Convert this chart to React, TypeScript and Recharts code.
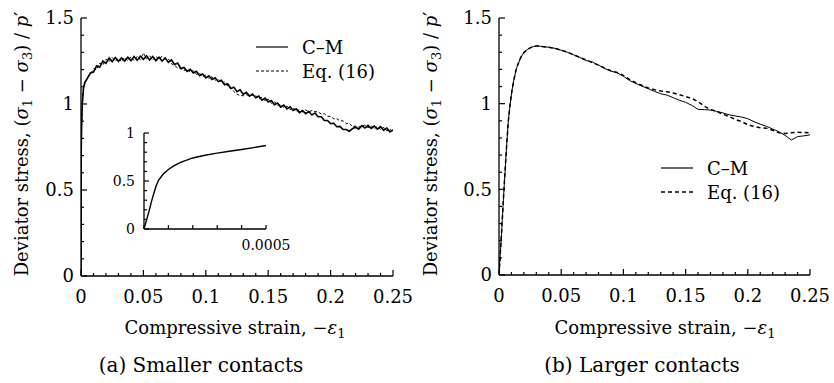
import React from 'react';
import { LineChart, Line, XAxis, YAxis } from 'recharts';

const FONT = "'DejaVu Serif', 'Liberation Serif', serif";
const FS = 18;
const SUB = 13;

// (a) smaller contacts
const strainA = [
    0, 0.0001, 0.0002, 0.0005, 0.001, 0.002, 0.003, 0.005, 0.0075,
    0.01, 0.0125, 0.015, 0.0175, 0.02, 0.0225, 0.025, 0.0275, 0.03, 0.0325,
    0.035, 0.0375, 0.04, 0.0425, 0.045, 0.0475, 0.05, 0.0525, 0.055, 0.0575,
    0.06, 0.0625, 0.065, 0.0675, 0.07, 0.0725, 0.075, 0.0775, 0.08, 0.0825,
    0.085, 0.0875, 0.09, 0.0925, 0.095, 0.0975, 0.1, 0.1025, 0.105, 0.1075,
    0.11, 0.1125, 0.115, 0.1175, 0.12, 0.1225, 0.125, 0.1275, 0.13, 0.1325,
    0.135, 0.1375, 0.14, 0.1425, 0.145, 0.1475, 0.15, 0.1525, 0.155, 0.1575,
    0.16, 0.1625, 0.165, 0.1675, 0.17, 0.1725, 0.175, 0.1775, 0.18, 0.1825,
    0.185, 0.1875, 0.19, 0.1925, 0.195, 0.1975, 0.2, 0.2025, 0.205, 0.2075,
    0.21, 0.2125, 0.215, 0.2175, 0.22, 0.2225, 0.225, 0.2275, 0.23, 0.2325,
    0.235, 0.2375, 0.24, 0.2425, 0.245, 0.2475, 0.25,
];
const cmA = [
    0, 0.62, 0.74, 0.87, 1.0, 1.09, 1.125, 1.148, 1.18,
    1.185, 1.222, 1.214, 1.25, 1.236, 1.268, 1.246, 1.27, 1.248, 1.268,
    1.25, 1.272, 1.252, 1.276, 1.254, 1.278, 1.26, 1.28, 1.256, 1.276,
    1.252, 1.272, 1.25, 1.268, 1.242, 1.256, 1.23, 1.238, 1.206, 1.212,
    1.19, 1.202, 1.18, 1.19, 1.164, 1.174, 1.152, 1.164, 1.142, 1.152,
    1.13, 1.138, 1.112, 1.118, 1.09, 1.098, 1.072, 1.082, 1.056, 1.068,
    1.046, 1.058, 1.036, 1.046, 1.022, 1.034, 1.012, 1.02, 0.996, 1.006,
    0.982, 0.994, 0.972, 0.984, 0.962, 0.972, 0.95, 0.962, 0.944, 0.956,
    0.936, 0.948, 0.926, 0.926, 0.904, 0.904, 0.886, 0.888, 0.868, 0.87,
    0.852, 0.852, 0.842, 0.856, 0.866, 0.854, 0.874, 0.86, 0.876, 0.858,
    0.872, 0.854, 0.868, 0.848, 0.86, 0.838, 0.85,
];
const eqA = [
    0, 0.62, 0.74, 0.87, 0.99, 1.1, 1.115, 1.155, 1.17,
    1.205, 1.2, 1.238, 1.226, 1.26, 1.246, 1.27, 1.25, 1.266, 1.246,
    1.27, 1.252, 1.274, 1.254, 1.276, 1.258, 1.296, 1.262, 1.28, 1.258,
    1.276, 1.262, 1.278, 1.262, 1.262, 1.234, 1.224, 1.21, 1.206, 1.194,
    1.204, 1.186, 1.194, 1.172, 1.18, 1.16, 1.168, 1.148, 1.158, 1.138,
    1.146, 1.122, 1.128, 1.104, 1.096, 1.072, 1.056, 1.05, 1.048, 1.054,
    1.048, 1.052, 1.05, 1.03, 1.038, 1.018, 1.028, 1.004, 1.014, 0.99,
    0.998, 0.978, 0.988, 0.968, 0.978, 0.958, 0.966, 0.954, 0.966, 0.954,
    0.962, 0.956, 0.954, 0.942, 0.944, 0.928, 0.928, 0.914, 0.914, 0.902,
    0.902, 0.886, 0.888, 0.868, 0.872, 0.866, 0.87, 0.878, 0.862, 0.874,
    0.856, 0.87, 0.852, 0.864, 0.844, 0.854, 0.838,
];

// (b) larger contacts
const strainB = [
    0, 0.001, 0.002, 0.003, 0.004, 0.005, 0.006, 0.0075, 0.009, 0.0105,
    0.012, 0.0135, 0.015, 0.0175, 0.02, 0.0225, 0.025, 0.0275, 0.03, 0.0325,
    0.035, 0.04, 0.045, 0.05, 0.055, 0.06, 0.065, 0.07, 0.075, 0.08,
    0.085, 0.09, 0.095, 0.1, 0.105, 0.11, 0.115, 0.12, 0.125, 0.13,
    0.135, 0.14, 0.145, 0.15, 0.155, 0.16, 0.165, 0.17, 0.175, 0.18,
    0.185, 0.19, 0.195, 0.2, 0.205, 0.21, 0.215, 0.22, 0.225, 0.23,
    0.235, 0.24, 0.245, 0.25,
];
const cmB = [
    0, 0.12, 0.24, 0.37, 0.5, 0.62, 0.74, 0.9, 1.0, 1.08,
    1.14, 1.19, 1.225, 1.27, 1.298, 1.315, 1.326, 1.333, 1.337, 1.336,
    1.333, 1.329, 1.323, 1.312, 1.3, 1.285, 1.27, 1.252, 1.243, 1.225,
    1.205, 1.19, 1.18, 1.16, 1.135, 1.118, 1.102, 1.087, 1.072, 1.058,
    1.05, 1.035, 1.02, 1.008, 0.99, 0.967, 0.965, 0.963, 0.955, 0.946,
    0.935, 0.928, 0.922, 0.912, 0.895, 0.88, 0.868, 0.852, 0.836, 0.815,
    0.788, 0.808, 0.812, 0.818,
];
const eqB = [
    0, 0.12, 0.24, 0.37, 0.5, 0.62, 0.74, 0.9, 1.0, 1.08,
    1.14, 1.19, 1.225, 1.27, 1.298, 1.315, 1.326, 1.333, 1.337, 1.336,
    1.333, 1.329, 1.323, 1.312, 1.3, 1.285, 1.27, 1.255, 1.24, 1.225,
    1.207, 1.192, 1.182, 1.165, 1.142, 1.122, 1.106, 1.092, 1.082, 1.074,
    1.07, 1.062, 1.052, 1.042, 1.03, 1.012, 0.985, 0.966, 0.955, 0.938,
    0.925, 0.908, 0.895, 0.878, 0.866, 0.86, 0.856, 0.845, 0.83, 0.826,
    0.83, 0.833, 0.832, 0.83,
];

// inset of (a), very small strains
const strainInset = [
    0, 0.00001, 0.00002, 0.00003, 0.00004, 0.00005, 0.00006, 0.00008, 0.0001,
    0.00012, 0.00015, 0.0002, 0.00025, 0.0003, 0.00035, 0.0004, 0.00045, 0.0005,
];
const cmInset = [
    0, 0.09, 0.18, 0.28, 0.37, 0.45, 0.51, 0.575, 0.62,
    0.655, 0.695, 0.74, 0.768, 0.79, 0.81, 0.828, 0.848, 0.87,
];

const xMajor = [0, 0.05, 0.1, 0.15, 0.2, 0.25];
const xAll = [
    0, 0.01, 0.02, 0.03, 0.04, 0.05, 0.06, 0.07, 0.08, 0.09, 0.1, 0.11, 0.12,
    0.13, 0.14, 0.15, 0.16, 0.17, 0.18, 0.19, 0.2, 0.21, 0.22, 0.23, 0.24, 0.25,
];
const yMajor = [0, 0.5, 1, 1.5];
const yAll = [0, 0.1, 0.2, 0.3, 0.4, 0.5, 0.6, 0.7, 0.8, 0.9, 1, 1.1, 1.2, 1.3, 1.4, 1.5];
const insetXAll = [0, 0.0001, 0.0002, 0.0003, 0.0004, 0.0005];
const insetXMajor = [0.0005];
const insetYMajor = [0, 0.5, 1];
const insetYAll = [0, 0.1, 0.2, 0.3, 0.4, 0.5, 0.6, 0.7, 0.8, 0.9, 1];

const toRows = (xs: number[], ys: number[]) => xs.map((x, i) => ({ x, y: ys[i] }));
const isIn = (v: number, list: number[]) => list.some((m) => Math.abs(m - v) < 1e-9);

// inward tick marks, labels only on major ticks
function makeTick(side: 'bottom' | 'top' | 'left' | 'right', majors: number[], labels: number[] | null, big: number, small: number, fontSize: number) {
    return (props: any) => {
        const { x, y, payload } = props;
        const v = payload.value;
        const len = isIn(v, majors) ? big : small;
        const showLabel = labels && isIn(v, labels);
        let line;
        if (side === 'bottom') line = <line x1={x} x2={x} y1={y} y2={y - len} />;
        else if (side === 'top') line = <line x1={x} x2={x} y1={y} y2={y + len} />;
        else if (side === 'left') line = <line x1={x} x2={x + len} y1={y} y2={y} />;
        else line = <line x1={x} x2={x - len} y1={y} y2={y} />;
        const txt = { stroke: 'none', fill: '#000', style: { fontFamily: FONT, fontSize } };
        return (
            <g stroke="#000" strokeWidth={1.2}>
                {line}
                {showLabel && side === 'bottom' && (
                    <text x={x} y={y + fontSize * 1.5} textAnchor="middle" {...txt}>{String(v)}</text>
                )}
                {showLabel && side === 'left' && (
                    <text x={x - (fontSize > 16 ? 7 : 9)} y={y + fontSize * 0.36} textAnchor="end" {...txt}>{String(v)}</text>
                )}
            </g>
        );
    };
}

const axisLine = { stroke: '#000', strokeWidth: 1.3 };

function Panel({ left, width, margin, cm, eq, solidWidth, dash, dashWidth }: any) {
    return (
        <div style={{ position: 'absolute', left, top: 0 }}>
            <LineChart width={width} height={383} margin={margin}>
                <XAxis type="number" dataKey="x" domain={[0, 0.25]} ticks={xAll} interval={0} height={30}
                    tickSize={0} tickMargin={0} tickLine={false} axisLine={axisLine} allowDataOverflow
                    tick={makeTick('bottom', xMajor, xMajor, 6, 3, FS)} />
                <XAxis xAxisId="top" orientation="top" type="number" dataKey="x" domain={[0, 0.25]} ticks={xAll} interval={0} height={0}
                    tickSize={0} tickMargin={0} tickLine={false} axisLine={axisLine}
                    tick={makeTick('top', xMajor, null, 6, 3, FS)} />
                <YAxis type="number" domain={[0, 1.5]} ticks={yAll} interval={0} width={60}
                    tickSize={0} tickMargin={0} tickLine={false} axisLine={axisLine} allowDataOverflow
                    tick={makeTick('left', yMajor, yMajor, 6, 3, FS)} />
                <YAxis yAxisId="right" orientation="right" type="number" domain={[0, 1.5]} ticks={yAll} interval={0} width={0}
                    tickSize={0} tickMargin={0} tickLine={false} axisLine={axisLine}
                    tick={makeTick('right', yMajor, null, 6, 3, FS)} />
                <Line data={eq} dataKey="y" type="linear" stroke="#000" strokeWidth={dashWidth} strokeDasharray={dash} dot={false} isAnimationActive={false} />
                <Line data={cm} dataKey="y" type="linear" stroke="#000" strokeWidth={solidWidth} dot={false} isAnimationActive={false} />
            </LineChart>
        </div>
    );
}

function Inset() {
    return (
        <div style={{ position: 'absolute', left: 100, top: 120 }}>
            <LineChart width={190} height={140} margin={{ top: 13, right: 24, bottom: 11, left: 4 }}>
                <XAxis type="number" dataKey="x" domain={[0, 0.0005]} ticks={insetXAll} interval={0} height={20}
                    tickSize={0} tickMargin={0} tickLine={false} axisLine={axisLine}
                    tick={makeTick('bottom', insetXAll, insetXMajor, 4, 4, 14)} />
                <XAxis xAxisId="top" orientation="top" type="number" dataKey="x" domain={[0, 0.0005]} ticks={insetXAll} interval={0} height={0}
                    tickSize={0} tickMargin={0} tickLine={false} axisLine={axisLine}
                    tick={makeTick('top', insetXAll, null, 4, 4, 14)} />
                <YAxis type="number" domain={[0, 1]} ticks={insetYAll} interval={0} width={40}
                    tickSize={0} tickMargin={0} tickLine={false} axisLine={axisLine}
                    tick={makeTick('left', insetYMajor, insetYMajor, 5, 3, 14)} />
                <YAxis yAxisId="right" orientation="right" type="number" domain={[0, 1]} ticks={insetYAll} interval={0} width={0}
                    tickSize={0} tickMargin={0} tickLine={false} axisLine={axisLine}
                    tick={makeTick('right', insetYMajor, null, 5, 3, 14)} />
                <Line data={toRows(strainInset, cmInset)} dataKey="y" type="linear" stroke="#000" strokeWidth={1.4} dot={false} isAnimationActive={false} />
            </LineChart>
        </div>
    );
}

const textStyle = { fontFamily: FONT, fontSize: FS };
const captionStyle = { fontFamily: FONT, fontSize: 20 };

function YTitle({ x }: { x: number }) {
    return (
        <text transform={`translate(${x},144) rotate(-90)`} textAnchor="middle" fill="#000" style={textStyle}>
            Deviator stress, (<tspan fontStyle="italic">σ</tspan>
            <tspan dy={4} style={{ fontSize: SUB }}>1</tspan>
            <tspan dy={-4}> − </tspan>
            <tspan fontStyle="italic">σ</tspan>
            <tspan dy={4} style={{ fontSize: SUB }}>3</tspan>
            <tspan dy={-4}>) / </tspan>
            <tspan fontStyle="italic">p</tspan>′
        </text>
    );
}

function XTitle({ x }: { x: number }) {
    return (
        <text x={x} y={334} textAnchor="middle" fill="#000" style={textStyle}>
            Compressive strain, −<tspan fontStyle="italic">ε</tspan>
            <tspan dy={4} style={{ fontSize: SUB }}>1</tspan>
        </text>
    );
}

function LegendBox({ x, y, dash, dashWidth }: any) {
    return (
        <g>
            <line x1={x} x2={x + 32} y1={y} y2={y} stroke="#000" strokeWidth={1.2} />
            <text x={x + 46} y={y + 7} fill="#000" style={textStyle}>C–M</text>
            <line x1={x} x2={x + 32} y1={y + 24} y2={y + 24} stroke="#000" strokeWidth={dashWidth} strokeDasharray={dash} />
            <text x={x + 46} y={y + 31} fill="#000" style={textStyle}>Eq. (16)</text>
        </g>
    );
}

export default function App() {
    return (
        <div style={{ position: 'absolute', left: 0, top: 0, width: 834, height: 383, background: '#fff', fontFamily: FONT }}>
            <Panel left={0} width={420} margin={{ top: 18, right: 27, bottom: 77, left: 21 }}
                cm={toRows(strainA, cmA)} eq={toRows(strainA, eqA)} solidWidth={1.6} dash="3 2" dashWidth={1} />
            <Panel left={420} width={414} margin={{ top: 18, right: 24, bottom: 78, left: 19 }}
                cm={toRows(strainB, cmB)} eq={toRows(strainB, eqB)} solidWidth={1} dash="4 3" dashWidth={1.5} />
            <Inset />
            <svg width={834} height={383} style={{ position: 'absolute', left: 0, top: 0, pointerEvents: 'none' }}>
                <YTitle x={28} />
                <YTitle x={437} />
                <XTitle x={235} />
                <XTitle x={665} />
                <text x={201} y={372} textAnchor="middle" fill="#000" style={captionStyle}>(a) Smaller contacts</text>
                <text x={642} y={372} textAnchor="middle" fill="#000" style={captionStyle}>(b) Larger contacts</text>
                <LegendBox x={256} y={47} dash="3 2" dashWidth={1} />
                <LegendBox x={661} y={168} dash="4 3" dashWidth={1.5} />
            </svg>
        </div>
    );
}
